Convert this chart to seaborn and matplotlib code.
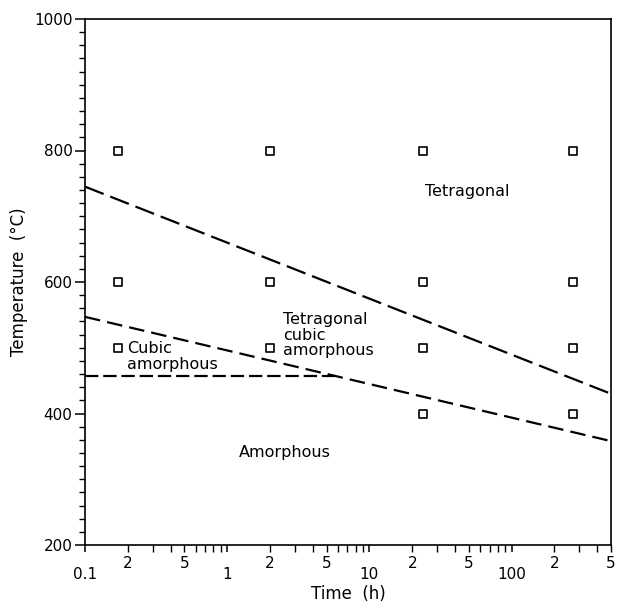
import matplotlib
matplotlib.use("Agg")
import matplotlib.pyplot as plt
import matplotlib.ticker as mticker
import numpy as np
import pandas as pd
import seaborn as sns

# Annealing experiments (time in h, temperature in deg C)
sample_time = [0.17, 0.17, 0.17, 2, 2, 2, 24, 24, 24, 24, 270, 270, 270, 270]
sample_temp = [800, 600, 500, 800, 600, 500, 800, 600, 500, 400, 800, 600, 500, 400]

# Phase boundaries
upper_time = [0.1, 500]
upper_temp = [745, 430]
lower_time = [0.1, 500]
lower_temp = [547, 358]
cubic_time = [0.1, 5.6]
cubic_temp = [457, 457]

# Axis ticks
x_major = [0.1, 1, 10, 100]
x_major_labels = ["0.1", "1", "10", "100"]
x_minor = [0.2, 0.3, 0.4, 0.5, 0.6, 0.7, 0.8, 0.9,
           2, 3, 4, 5, 6, 7, 8, 9,
           20, 30, 40, 50, 60, 70, 80, 90,
           200, 300, 400, 500]
x_minor_labels = ["2", "", "", "5", "", "", "", "",
                  "2", "", "", "5", "", "", "", "",
                  "2", "", "", "5", "", "", "", "",
                  "2", "", "", "5"]
y_major = [200, 400, 600, 800, 1000]

# Region labels: (text, time, temperature)
regions = [
    ("Tetragonal", 49, 737, "center"),
    ("Tetragonal\ncubic\namorphous", 2.48, 519, "left"),
    ("Cubic\namorphous", 0.198, 487, "left"),
    ("Amorphous", 2.56, 340, "center"),
]

sns.set_theme(style="ticks")
plt.rcParams["font.family"] = ["DejaVu Sans"]
plt.rcParams["text.color"] = "black"
plt.rcParams["axes.labelcolor"] = "black"
plt.rcParams["xtick.color"] = "black"
plt.rcParams["ytick.color"] = "black"

fig = plt.figure(figsize=(6.17, 6.08), dpi=100)
ax = fig.add_axes([85 / 617, 1 - 545 / 608, (611 - 85) / 617, (545 - 19) / 608])
ax.set_xscale("log")

line_kw = dict(color="black", linewidth=1.6, estimator=None, sort=False)
sns.lineplot(x=upper_time, y=upper_temp, ax=ax, **line_kw)
sns.lineplot(x=lower_time, y=lower_temp, ax=ax, **line_kw)
sns.lineplot(x=cubic_time, y=cubic_temp, ax=ax, **line_kw)
styles = [(0, (9, 3.2)), (0, (7, 3.2)), (0, (6, 2.2))]
for ln, ls in zip(ax.get_lines(), styles):
    ln.set_linestyle(ls)

sns.scatterplot(x=sample_time, y=sample_temp, ax=ax, marker="s", s=34,
                facecolor="white", edgecolor="black", linewidth=1.2, zorder=5)

for text, t, temp, ha in regions:
    ax.text(t, temp, text, ha=ha, va="center", fontsize=11.5,
            linespacing=1.05, color="black")

ax.set_xlim(0.1, 500)
ax.set_ylim(200, 1000)

ax.xaxis.set_major_locator(mticker.FixedLocator(x_major))
ax.xaxis.set_major_formatter(mticker.FixedFormatter(x_major_labels))
ax.xaxis.set_minor_locator(mticker.FixedLocator(x_minor))
ax.xaxis.set_minor_formatter(mticker.FixedFormatter(x_minor_labels))
ax.tick_params(axis="x", which="major", direction="out", length=5, width=1.1,
               pad=11, labelsize=11, color="black", labelcolor="black")
ax.tick_params(axis="x", which="minor", direction="out", length=5, width=1.0,
               pad=3, labelsize=11, color="black", labelcolor="black")

ax.yaxis.set_major_locator(mticker.FixedLocator(y_major))
ax.yaxis.set_minor_locator(mticker.MultipleLocator(20))
ax.tick_params(axis="y", which="major", direction="out", length=7, width=1.1,
               pad=2, labelsize=11, color="black", labelcolor="black")
ax.tick_params(axis="y", which="minor", direction="out", length=4, width=1.0,
               color="black")

for sp in ax.spines.values():
    sp.set_visible(True)
    sp.set_linewidth(1.2)
    sp.set_color("black")

ax.set_xlabel("Time  (h)", fontsize=12, labelpad=2, color="black")
ax.set_ylabel("Temperature  (°C)", fontsize=12, labelpad=4, color="black")

fig.savefig("out.png", dpi=100, facecolor="white")
